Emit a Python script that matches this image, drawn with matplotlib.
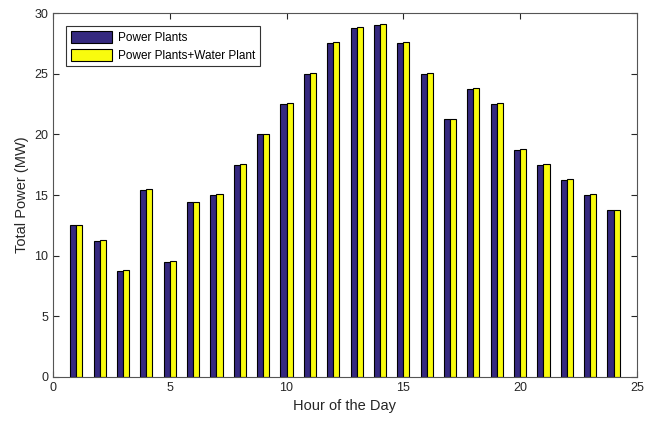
import matplotlib
matplotlib.use("Agg")
import matplotlib.pyplot as plt
import numpy as np

hours = np.arange(1, 25)
power_plants = [12.5, 11.25, 8.75, 15.45, 9.5, 14.4, 15.0, 17.5, 20.0, 22.5, 25.0, 27.5,
                28.75, 29.0, 27.5, 25.0, 21.25, 23.75, 22.5, 18.75, 17.5, 16.25, 15.0, 13.75]
with_water = [12.55, 11.3, 8.8, 15.5, 9.55, 14.45, 15.05, 17.55, 20.05, 22.6, 25.1, 27.6,
              28.85, 29.1, 27.6, 25.1, 21.3, 23.85, 22.6, 18.8, 17.55, 16.3, 15.05, 13.8]

plt.rcParams['font.family'] = ['Liberation Sans', 'DejaVu Sans']

fig = plt.figure(figsize=(6.59, 4.25), dpi=100)
ax = fig.add_axes([0.0804, 0.113, 0.886, 0.856])

w = 0.26
# light gray shadow like the reference
ax.bar(hours - w / 2 + 0.04, power_plants, w, color='#bbbbbb', edgecolor='none', zorder=1)
ax.bar(hours + w / 2 + 0.04, with_water, w, color='#bbbbbb', edgecolor='none', zorder=1)
ax.bar(hours - w / 2, power_plants, w, color='#35297f', edgecolor='black', linewidth=0.8,
       label='Power Plants', zorder=2)
ax.bar(hours + w / 2, with_water, w, color='#f9fb0e', edgecolor='black', linewidth=0.8,
       label='Power Plants+Water Plant', zorder=2)

ax.set_xlim(0, 25)
ax.set_ylim(0, 30)
ax.set_xticks(np.arange(0, 26, 5))
ax.set_yticks(np.arange(0, 31, 5))
ax.tick_params(direction='in', top=True, right=True, labelsize=9, colors='#262626', length=4)
for s in ax.spines.values():
    s.set_color('#555555')
    s.set_linewidth(0.8)

ax.set_xlabel('Hour of the Day', fontsize=10.5, color='#262626')
ax.set_ylabel('Total Power (MW)', fontsize=10.5, color='#262626')

leg = ax.legend(loc='upper left', fontsize=8.5, fancybox=False, edgecolor='#333333',
                handlelength=3.5, handleheight=1.2, borderaxespad=1.1, framealpha=1,
                labelspacing=0.4, handletextpad=0.5)
leg.get_frame().set_linewidth(0.8)

fig.savefig('out.png', dpi=100)
